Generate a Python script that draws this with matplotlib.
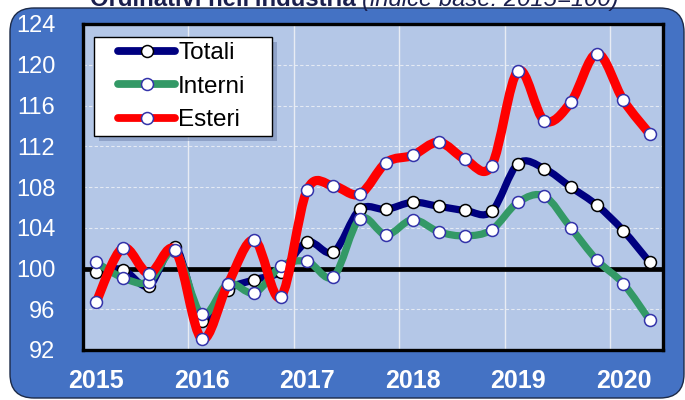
import matplotlib
matplotlib.use("Agg")
import matplotlib.pyplot as plt
from matplotlib import font_manager
from matplotlib.patches import FancyBboxPatch, PathPatch, Rectangle
from matplotlib.path import Path
from matplotlib.lines import Line2D
from matplotlib.transforms import IdentityTransform
import numpy as np

# ---------------- data ----------------
years = ["2015", "2016", "2017", "2018", "2019", "2020"]
quarters_per_year = 4
totali = [99.7, 99.9, 98.3, 102.1, 94.8, 97.9, 98.9, 99.7, 102.6, 101.6, 105.8,
          105.8, 106.5, 106.1, 105.7, 105.6, 110.3, 109.8, 108.0, 106.2, 103.7, 100.6]
interni = [100.6, 99.1, 98.7, 101.7, 95.5, 98.5, 97.6, 100.2, 100.7, 99.2, 104.9,
           103.3, 104.8, 103.6, 103.2, 103.8, 106.5, 107.1, 104.0, 100.8, 98.5, 94.9]
esteri = [96.7, 102.0, 99.5, 101.8, 93.1, 98.5, 102.8, 97.2, 107.7, 108.1, 107.3,
          110.4, 111.1, 112.4, 110.7, 110.1, 119.4, 114.5, 116.3, 121.1, 116.5, 113.2]
series_names = ["Totali", "Interni", "Esteri"]
y_ticks = [92, 96, 100, 104, 108, 112, 116, 120, 124]
title_bold = "Ordinativi nell'industria "
title_italic = "(indice base: 2015=100)"

# ---------------- fonts ----------------
names = {f.name for f in font_manager.fontManager.ttflist}
NARROW = "Liberation Sans Narrow" if "Liberation Sans Narrow" in names else "Liberation Sans"
plt.rcParams["font.family"] = [NARROW, "DejaVu Sans"]

W, H = 685, 400
fig = plt.figure(figsize=(W / 100, H / 100), dpi=100)
fig.patch.set_facecolor("white")

# blue rounded panel
panel = FancyBboxPatch((10, 2), 674, 390, boxstyle="round,pad=0,rounding_size=24",
                       transform=IdentityTransform(), facecolor="#4472C4",
                       edgecolor="#1c2a48", linewidth=1.0, zorder=0)
fig.add_artist(panel)

AX_L, AX_R, AX_T, AX_B = 83, 663, 24, 350
ax = fig.add_axes([AX_L / W, (H - AX_B) / H, (AX_R - AX_L) / W, (AX_B - AX_T) / H])
ax.set_facecolor("#B4C7E7")
ax.set_zorder(2)


def px2ax(px, py):
    return (px - AX_L) / (AX_R - AX_L), (AX_B - py) / (AX_B - AX_T)


n = len(totali)
x = np.arange(n)


def smooth_path(xs, ys):
    pts = np.column_stack([xs, ys]).astype(float)
    ext = np.vstack([pts[0], pts, pts[-1]])
    verts = [tuple(pts[0])]
    codes = [Path.MOVETO]
    for i in range(len(pts) - 1):
        p0, p1, p2, p3 = ext[i], ext[i + 1], ext[i + 2], ext[i + 3]
        c1 = p1 + (p2 - p0) / 6.0
        c2 = p2 - (p3 - p1) / 6.0
        verts += [tuple(c1), tuple(c2), tuple(p2)]
        codes += [Path.CURVE4] * 3
    return Path(verts, codes)


styles = [
    (totali, "#000080", 5.2, "black", 4),
    (interni, "#339966", 5.2, "#3333AA", 5),
    (esteri, "#FF0000", 6.6, "#3333AA", 6),
]
handles = []
for (vals, col, lw, mec, z), name in zip(styles, series_names):
    pp = PathPatch(smooth_path(x, vals), facecolor="none", edgecolor=col, lw=lw,
                   capstyle="round", joinstyle="round", zorder=z)
    ax.add_patch(pp)
    ax.plot(x, vals, linestyle="none", marker="o", markersize=8.6,
            markerfacecolor="white", markeredgecolor=mec, markeredgewidth=1.1,
            zorder=z + 0.5)
    handles.append(Line2D([], [], color=col, lw=5.6, marker="o", markersize=8.6,
                          markerfacecolor="white", markeredgecolor=mec,
                          markeredgewidth=1.1, solid_capstyle="round"))

ax.axhline(100, color="black", lw=3.4, zorder=3)

ax.set_xlim(-0.5, n - 0.5)
ax.set_ylim(y_ticks[0], y_ticks[-1])

# grid
for yv in y_ticks[1:-1]:
    ax.axhline(yv, color="#E4EAF4", lw=0.8, ls=(0, (3, 2)), zorder=1)
for k in range(1, len(years)):
    ax.axvline(k * quarters_per_year - 0.5, color="#E8ECF4", lw=1.0, zorder=1)

ax.set_yticks(y_ticks)
ax.set_yticklabels([str(v) for v in y_ticks], color="white", fontsize=17)
ax.set_xticks([k * quarters_per_year for k in range(len(years))])
ax.set_xticklabels(years, color="white", fontsize=18, fontweight="bold")
ax.tick_params(axis="y", length=0, pad=20)
ax.tick_params(axis="x", length=0, pad=14)
for s in ax.spines.values():
    s.set_linewidth(2.4)
    s.set_color("black")

# legend frame (drawn explicitly to match the reference box)
fx0, fy1 = px2ax(94, 136)
fx1, fy0 = px2ax(272, 37)
shadow = Rectangle((fx0 + 5 / 580, fy1 - 5 / 326), fx1 - fx0, fy0 - fy1,
                   transform=ax.transAxes, facecolor="#7185b0", edgecolor="none",
                   alpha=0.55, zorder=9)
frame = Rectangle((fx0, fy1), fx1 - fx0, fy0 - fy1, transform=ax.transAxes,
                  facecolor="white", edgecolor="black", lw=1.0, zorder=9.5)
ax.add_patch(shadow)
ax.add_patch(frame)

leg = ax.legend(handles, series_names, loc="upper left",
                bbox_to_anchor=px2ax(118, 42), borderaxespad=0, borderpad=0,
                fontsize=17.5, handlelength=2.35, handletextpad=0.12,
                labelspacing=0.48, frameon=False)
leg.set_zorder(10)

# title (cut off at the top, as in the reference)
t1 = fig.text(90 / W, (H - 6) / H, title_bold, fontsize=17.2, fontweight="bold",
              color="#1a1f4d", va="baseline", ha="left",
              family=["Liberation Sans", "DejaVu Sans"])
fig.canvas.draw()
bb = t1.get_window_extent()
fig.text(bb.x1 / W, (H - 6) / H, title_italic, fontsize=17.2, fontstyle="italic",
         color="#1a1f4d", va="baseline", ha="left",
         family=["Liberation Sans", "DejaVu Sans"])

fig.savefig("out.png", dpi=100)
